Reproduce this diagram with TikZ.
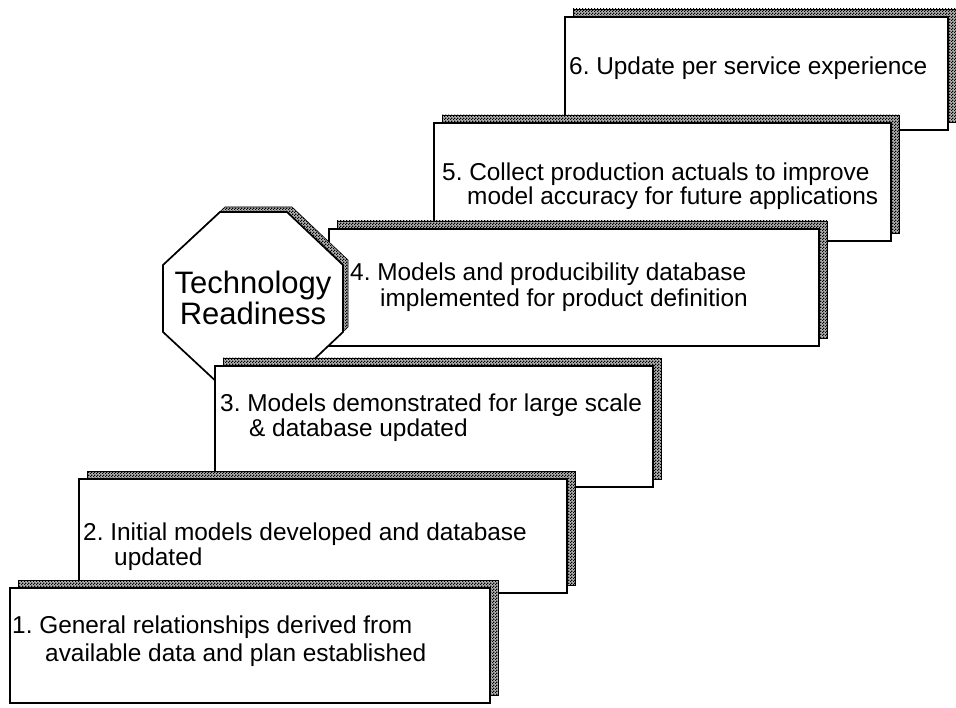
\documentclass[tikz,border=0pt]{standalone}
\usepackage{fontspec}
\setmainfont{Liberation Sans}
\usetikzlibrary{patterns}
\frenchspacing
\pgfdeclarepatternformonly{finecheck}{\pgfqpoint{0pt}{0pt}}{\pgfqpoint{3pt}{3pt}}{\pgfqpoint{3pt}{3pt}}{%
  \pgfpathrectangle{\pgfqpoint{0pt}{0pt}}{\pgfqpoint{1.5pt}{1.5pt}}%
  \pgfpathrectangle{\pgfqpoint{1.5pt}{1.5pt}}{\pgfqpoint{1.5pt}{1.5pt}}%
  \pgfusepath{fill}}
\tikzset{
  shadeband/.style={preaction={fill=black!30}, pattern=finecheck, pattern color=black, draw=black, line width=0.6pt},
  stepframe/.style={fill=white, draw=black, line width=1.7pt},
  steptext/.style={anchor=base west, inner sep=0pt, font=\fontsize{24.4}{26}\selectfont},
  octtext/.style={align=center, inner sep=0pt, font=\fontsize{31}{31}\selectfont},
}
\newcommand{\stepbox}[4]{%
  \draw[shadeband] (#1+8,#2-8) rectangle (#3+8,#4-8);
  \draw[stepframe] (#1,#2) rectangle (#3,#4);}
\begin{document}
\begin{tikzpicture}[x=1pt,y=-1pt]
\useasboundingbox[fill=white] (0,0) rectangle (956,708);
% box 6
\stepbox{565}{17}{948}{130}
\node[steptext] (t6a) at (569,75) {6. Update per service experience};
% box 5
\stepbox{434}{123}{891}{241}
\node[steptext] (t5a) at (442,181) {5. Collect production actuals to improve};
\node[steptext] (t5b) at (467,205) {model accuracy for future applications};
% box 4
\stepbox{329}{229}{819}{346}
\node[steptext] (t4a) at (350,281) {4. Models and producibility database};
\node[steptext] (t4b) at (380,307) {implemented for product definition};
% octagon
\draw[shadeband] (225,207) -- (292,207) -- (348,260) -- (348,327) -- (292,380) -- (225,380) -- (168,327) -- (168,260) -- cycle;
\draw[stepframe] (220,212) -- (287,212) -- (343,265) -- (343,332) -- (287,385) -- (220,385) -- (163,332) -- (163,265) -- cycle;
\node[octtext] (tr) at (253,298) {Technology\\Readiness};
% box 3
\stepbox{215}{366}{653}{487}
\node[steptext] (t3a) at (220,412) {3. Models demonstrated for large scale};
\node[steptext] (t3b) at (249,437) {\& database updated};
% box 2
\stepbox{79}{479}{567}{593}
\node[steptext] (t2a) at (83,540) {2. Initial models developed and database};
\node[steptext] (t2b) at (114,565) {updated};
% box 1
\stepbox{10}{588}{490}{703}
\node[steptext] (t1a) at (12,633) {1. General relationships derived from};
\node[steptext] (t1b) at (45,661) {available data and plan established};
\end{tikzpicture}
\end{document}
